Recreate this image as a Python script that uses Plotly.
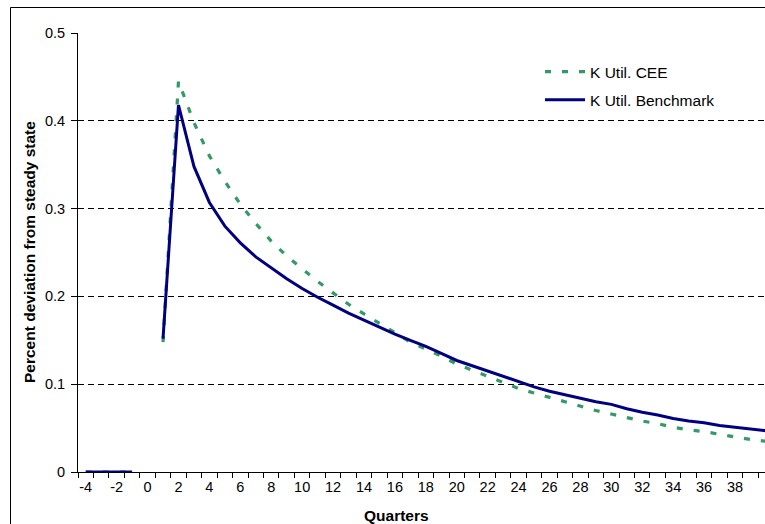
import plotly.graph_objects as go

quarters = list(range(-4, 41))

cee = [0, 0, 0, 0, None,
       0.148, 0.445, 0.398, 0.360, 0.331, 0.305, 0.283, 0.263, 0.246, 0.231,
       0.217, 0.204, 0.191, 0.180, 0.169, 0.158, 0.148, 0.140, 0.132, 0.123,
       0.116, 0.109, 0.102, 0.095, 0.090, 0.085, 0.080, 0.075, 0.070, 0.066,
       0.062, 0.058, 0.055, 0.051, 0.048, 0.046, 0.043, 0.040, 0.037, 0.035]

benchmark = [0, 0, 0, 0, None,
             0.152, 0.418, 0.348, 0.307, 0.280, 0.261, 0.245, 0.232, 0.220, 0.209,
             0.199, 0.190, 0.181, 0.173, 0.165, 0.157, 0.150, 0.143, 0.135, 0.127,
             0.121, 0.115, 0.109, 0.103, 0.097, 0.092, 0.088, 0.084, 0.080, 0.077,
             0.072, 0.068, 0.065, 0.061, 0.058, 0.056, 0.053, 0.051, 0.049, 0.047]

x_tick_vals = list(range(-4, 40, 2))
x_tick_text = [str(v) for v in x_tick_vals]
y_tick_vals = [0, 0.1, 0.2, 0.3, 0.4, 0.5]
y_tick_text = ["0", "0.1", "0.2", "0.3", "0.4", "0.5"]

W, H = 765, 524
L, R, T, B = 78, 0, 33, 52
pw, ph = W - L - R, H - T - B

def px_x(p):
    return (p - L) / pw

def px_y(p):
    return (H - B - p) / ph

FONT = "Liberation Sans, Arial, sans-serif"

fig = go.Figure()
fig.add_trace(go.Scatter(
    x=quarters, y=cee, mode="lines", name="K Util. CEE",
    line=dict(color="#339966", width=3.2, dash="6px,11px"),
    connectgaps=False, legendgroup="a"))
fig.add_trace(go.Scatter(
    x=quarters, y=benchmark, mode="lines", name="K Util. Benchmark",
    line=dict(color="#000080", width=3),
    connectgaps=False, legendgroup="b"))

fig.update_layout(
    width=W, height=H,
    margin=dict(l=L, r=R, t=T, b=B, pad=0),
    paper_bgcolor="white", plot_bgcolor="white",
    font=dict(family=FONT, size=14.5, color="black"),
    showlegend=True,
    legend=dict(x=px_x(540), y=px_y(55), xanchor="left", yanchor="top",
                bgcolor="rgba(0,0,0,0)", font=dict(size=15.5),
                tracegroupgap=5, traceorder="grouped", itemwidth=40),
    xaxis=dict(range=[-4.5, 39.94], tickmode="array", tickvals=x_tick_vals,
               ticktext=x_tick_text, ticks="", showgrid=False, zeroline=False,
               showline=True, linecolor="black", linewidth=1,
               tickfont=dict(size=14.5), ticklabelstandoff=2,
               minor=dict(tickmode="array",
                          tickvals=[v + 0.5 for v in range(-5, 40)],
                          ticks="outside", ticklen=5, tickwidth=1,
                          tickcolor="black", showgrid=False)),
    yaxis=dict(range=[0, 0.5], tickmode="array", tickvals=y_tick_vals,
               ticktext=y_tick_text, ticks="outside", ticklen=6, tickwidth=1,
               tickcolor="black", showgrid=True, gridcolor="black",
               gridwidth=1, griddash="6px,4px", zeroline=False,
               showline=True, linecolor="black", linewidth=1,
               tickfont=dict(size=14.5), ticklabelstandoff=3),
    shapes=[dict(type="rect", xref="paper", yref="paper",
                 x0=px_x(10.5), y0=px_y(560), x1=px_x(800), y1=px_y(7.5),
                 line=dict(color="black", width=1), fillcolor="rgba(0,0,0,0)",
                 layer="below")],
    annotations=[
        dict(text="<b>Quarters</b>", xref="paper", yref="paper",
             x=px_x(396), y=px_y(515), xanchor="center", yanchor="middle",
             showarrow=False, font=dict(size=15.5)),
        dict(text="<b>Percent deviation from steady state</b>", xref="paper",
             yref="paper", x=px_x(30), y=px_y(252), xanchor="center",
             yanchor="middle", textangle=-90, showarrow=False,
             font=dict(size=15.5)),
    ],
)

fig.write_html(
    "out.html",
    config={"displayModeBar": False},
    post_script="document.body.style.margin='0';document.body.style.padding='0';"
                "document.body.style.overflow='hidden';",
)
